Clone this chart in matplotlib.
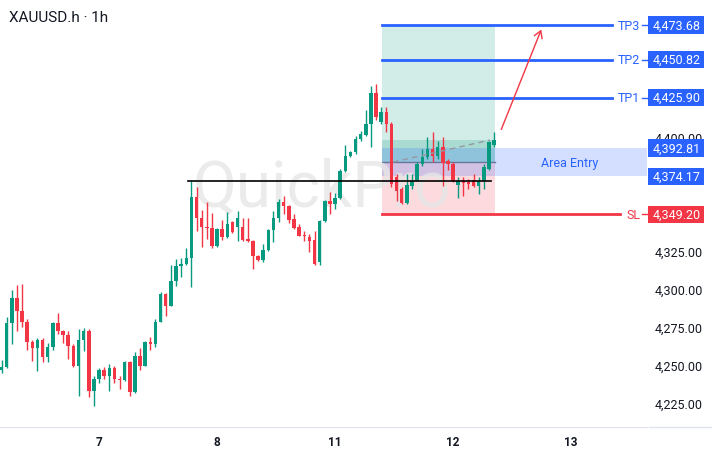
import matplotlib
matplotlib.use("Agg")
import matplotlib.pyplot as plt
import matplotlib.transforms as mtransforms
from matplotlib.patches import Rectangle, FancyArrowPatch
import numpy as np

plt.rcParams['font.family'] = ['Roboto', 'DejaVu Sans']

# XAUUSD.h hourly candles
opens = [4246.7, 4248.7, 4277.6, 4294.1, 4285.7, 4278.1, 4265.0, 4261.2, 4266.6, 4255.5,
         4262.0, 4277.6, 4272.2, 4269.7, 4262.7, 4249.5, 4266.4, 4272.6, 4232.7, 4240.8,
         4246.7, 4242.6, 4247.8, 4240.8, 4240.0, 4252.2, 4232.4, 4256.1, 4249.5, 4265.3,
         4263.8, 4278.5, 4296.7, 4289.0, 4305.5, 4315.3, 4316.4, 4320.4, 4360.7, 4346.7,
         4340.6, 4340.1, 4328.0, 4339.5, 4334.4, 4343.9, 4340.6, 4340.6, 4332.9, 4331.8,
         4321.9, 4319.1, 4325.9, 4338.8, 4346.5, 4357.0, 4354.8, 4346.1, 4340.6, 4335.1,
         4334.0, 4332.2, 4317.6, 4344.9, 4358.1, 4355.9, 4359.7, 4377.8, 4387.7, 4390.3,
         4398.7, 4401.5, 4408.6, 4428.9, 4410.1, 4416.2, 4408.6, 4373.7, 4365.8, 4356.6,
         4368.0, 4371.3, 4382.2, 4386.6, 4392.1, 4387.7, 4393.6, 4384.4, 4382.2, 4368.4,
         4371.3, 4370.6, 4371.7, 4367.6, 4371.3, 4378.9, 4394.7]
highs = [4253.3, 4281.6, 4299.5, 4302.8, 4303.3, 4280.3, 4266.5, 4267.7, 4267.7, 4264.5,
         4278.5, 4284.0, 4272.8, 4272.6, 4263.8, 4273.7, 4274.1, 4273.7, 4243.0, 4247.8,
         4248.5, 4250.6, 4249.1, 4243.0, 4252.8, 4252.8, 4258.8, 4261.0, 4266.0, 4268.2,
         4280.3, 4298.2, 4297.4, 4315.8, 4319.7, 4320.2, 4326.8, 4371.3, 4367.3, 4352.2,
         4357.0, 4349.8, 4340.2, 4345.6, 4350.5, 4344.5, 4351.5, 4346.7, 4346.5, 4332.5,
         4322.4, 4329.6, 4339.5, 4351.5, 4359.2, 4361.4, 4355.3, 4349.3, 4342.8, 4338.4,
         4336.2, 4338.4, 4345.6, 4358.8, 4363.6, 4363.2, 4378.9, 4394.7, 4391.0, 4400.9,
         4404.1, 4418.0, 4433.4, 4434.9, 4419.5, 4419.5, 4409.7, 4375.7, 4366.9, 4375.7,
         4375.7, 4383.3, 4392.1, 4399.8, 4403.5, 4397.6, 4399.8, 4385.5, 4383.3, 4373.5,
         4373.5, 4372.4, 4375.7, 4373.5, 4382.2, 4397.6, 4403.5]
lows = [4244.7, 4248.0, 4263.8, 4272.6, 4275.0, 4259.9, 4252.8, 4246.3, 4252.2, 4252.2,
        4260.0, 4270.4, 4264.5, 4253.9, 4248.5, 4229.8, 4259.4, 4228.8, 4223.2, 4238.2,
        4240.8, 4233.0, 4238.4, 4234.2, 4239.3, 4229.4, 4231.4, 4246.9, 4249.1, 4260.0,
        4261.7, 4278.0, 4282.4, 4288.6, 4301.8, 4307.7, 4315.8, 4301.1, 4338.4, 4327.4,
        4332.9, 4326.8, 4327.4, 4332.2, 4333.5, 4336.8, 4331.8, 4331.8, 4331.2, 4313.2,
        4318.6, 4317.6, 4325.2, 4331.1, 4343.9, 4349.3, 4343.4, 4339.5, 4334.7, 4331.8,
        4324.1, 4316.0, 4316.0, 4343.9, 4349.3, 4352.6, 4359.2, 4377.2, 4387.0, 4388.8,
        4397.6, 4400.9, 4393.2, 4411.0, 4408.6, 4403.1, 4367.0, 4358.1, 4355.9, 4355.9,
        4365.8, 4370.8, 4381.1, 4385.5, 4383.3, 4385.5, 4368.0, 4378.0, 4370.2, 4359.7,
        4361.0, 4365.8, 4366.9, 4362.5, 4365.8, 4378.4, 4393.6]
closes = [4248.7, 4277.6, 4294.1, 4285.7, 4278.1, 4265.0, 4261.2, 4266.6, 4255.5, 4262.0,
          4277.6, 4272.2, 4269.7, 4262.7, 4249.5, 4266.4, 4272.6, 4232.7, 4240.8, 4246.7,
          4242.6, 4247.8, 4240.8, 4240.0, 4252.2, 4232.4, 4256.1, 4249.5, 4265.3, 4263.8,
          4278.5, 4296.7, 4289.0, 4305.5, 4315.3, 4316.4, 4320.4, 4360.7, 4346.7, 4340.6,
          4340.1, 4328.5, 4339.5, 4334.4, 4342.8, 4337.3, 4346.5, 4332.2, 4331.8, 4321.9,
          4319.1, 4325.9, 4338.8, 4346.5, 4357.0, 4354.8, 4345.6, 4340.1, 4335.1, 4334.7,
          4331.8, 4316.4, 4344.9, 4358.1, 4355.9, 4359.7, 4377.8, 4387.7, 4390.3, 4398.7,
          4402.0, 4408.6, 4428.9, 4413.2, 4416.2, 4408.6, 4369.0, 4364.7, 4356.6, 4368.4,
          4371.3, 4382.2, 4386.6, 4392.1, 4387.7, 4393.6, 4382.9, 4382.2, 4371.3, 4371.3,
          4369.7, 4369.1, 4367.6, 4371.3, 4380.1, 4396.5, 4398.0]

day_labels = ["7", "8", "11", "12", "13"]
bars_per_day = 23
bars_before_first_day = 19

# trade levels
tp_names = ["TP3", "TP2", "TP1"]
tp_prices = [4473.68, 4450.82, 4425.90]
sl_price = 4349.20
entry_top = 4392.81
entry_bottom = 4374.17
resistance = 4371.3
# the other 25-step ticks sit under the price boxes
price_ticks = [4225, 4250, 4275, 4300, 4325, 4400]

GREEN = "#089981"
RED = "#f23645"
BLUE = "#2962ff"
TEXT = "#131722"

o = np.array(opens)
h = np.array(highs)
l = np.array(lows)
c = np.array(closes)
x = np.arange(len(o)) - bars_before_first_day
cols = np.where(c >= o, GREEN, RED)

fig = plt.figure(figsize=(7.12, 4.56), dpi=100)
ax = fig.add_axes([0, 28 / 456, 647 / 712, 428 / 456])
ax.set_xlim(-19.3, 106.8)
ax.set_ylim(4209.2, 4490.8)

# watermark, above the fills but under the candles
ax.text(193 / 712, 1 - 206 / 456, "QuickPro", transform=fig.transFigure, fontsize=46,
        color="#e6e6e6", alpha=0.8, ha="left", va="baseline", zorder=2.5)

# candles
ax.vlines(x, l, h, colors=cols, lw=1, zorder=3)
ax.bar(x, np.maximum(np.abs(c - o), 0.7), bottom=np.minimum(o, c), width=0.68,
       color=cols, zorder=3)

# long position box
entry = (entry_top + entry_bottom) / 2
box_l, box_r = 55.2, 77.2
last_close = c[-1]
ax.add_patch(Rectangle((box_l, entry), box_r - box_l, tp_prices[0] - entry,
                       color=GREEN, alpha=0.18, lw=0, zorder=1))
ax.add_patch(Rectangle((box_l, entry), box_r - box_l, last_close - entry,
                       color=GREEN, alpha=0.2, lw=0, zorder=1))
ax.add_patch(Rectangle((box_l, sl_price), box_r - box_l, entry - sl_price,
                       color=RED, alpha=0.18, lw=0, zorder=1))
ax.plot([box_l, box_r], [entry, entry], color="#787b86", lw=1, zorder=2)
ax.plot([57.3, 76.2], [entry, last_close], color="#9598a1", lw=1, ls=(0, (4, 3)), zorder=4)

# area entry band
ax.add_patch(Rectangle((box_l, entry_bottom), 106.8 - box_l, entry_top - entry_bottom,
                       color=BLUE, alpha=0.2, lw=0, zorder=2))
ax.text(91.8, entry, "Area Entry", color=BLUE, fontsize=9, ha="center", va="center", zorder=4)

# resistance line
ax.plot([17.3, 76.4], [resistance, resistance], color="black", lw=1.2, zorder=4)

# TP / SL lines
for name, p in zip(tp_names, tp_prices):
    ax.plot([box_l, 100], [p, p], color=BLUE, lw=2, zorder=4)
    ax.text(101, p, name, color=BLUE, fontsize=9, ha="left", va="center", zorder=4)
    ax.plot([105.8, 106.8], [p, p], color=BLUE, lw=1, zorder=4, clip_on=False)
ax.plot([box_l, 101.6], [sl_price, sl_price], color=RED, lw=2, zorder=4)
ax.text(102.9, sl_price, "SL", color=RED, fontsize=9, ha="left", va="center", zorder=4)
ax.plot([105.8, 106.8], [sl_price, sl_price], color=RED, lw=1, zorder=4, clip_on=False)

# arrow
ax.add_patch(FancyArrowPatch((78.2, 4403.3), (86.4, 4472.4), arrowstyle="->,head_length=5,head_width=3",
                             color=RED, lw=1, zorder=5))

# price axis
ax.yaxis.tick_right()
ax.set_yticks(price_ticks)
ax.set_yticklabels([f"{t:,.2f}" for t in price_ticks])
ax.tick_params(axis="y", length=0, pad=5.8, labelsize=9, labelcolor=TEXT)
ax.set_xticks([i * bars_per_day for i in range(len(day_labels))])
ax.set_xticklabels(day_labels, fontweight="bold")
ax.tick_params(axis="x", length=0, pad=6, labelsize=8.5, labelcolor=TEXT)
for s in ["top", "left", "right"]:
    ax.spines[s].set_visible(False)
ax.spines["bottom"].set_color("#e0e3eb")
fig.add_artist(plt.Line2D([649 / 712, 1], [28 / 456, 28 / 456], color="#e0e3eb", lw=1))

# price labels on the axis
tr = mtransforms.blended_transform_factory(fig.transFigure, ax.transData)
box_prices = tp_prices + [entry_top, entry_bottom, sl_price]
box_cols = [BLUE] * 5 + [RED]
for p, bc in zip(box_prices, box_cols):
    ax.add_patch(Rectangle((648 / 712, p - 5.7), 56 / 712, 11.4, transform=tr,
                           color=bc, lw=0, zorder=6, clip_on=False))
    ax.text(701 / 712, p, f"{p:,.2f}", transform=tr, color="white", fontsize=9,
            ha="right", va="center", zorder=7, clip_on=False)

fig.text(9 / 712, 1 - 18 / 456, "XAUUSD.h · 1h", fontsize=11, color=TEXT, ha="left", va="center")

fig.savefig("out.png", dpi=100)
